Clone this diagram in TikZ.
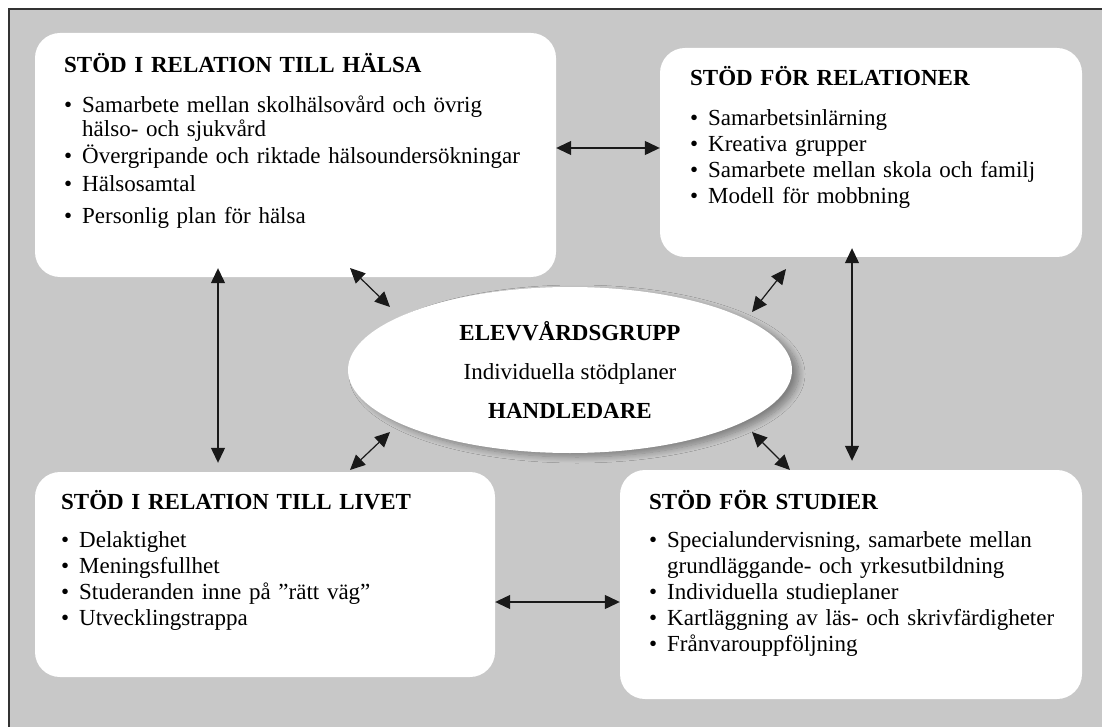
\documentclass[tikz,border=0pt]{standalone}
\usepackage{fontspec}
\setmainfont{Liberation Serif}
\usetikzlibrary{arrows.meta,shapes.geometric,shadows.blur}

\definecolor{bggray}{RGB}{200,200,200}
\tikzset{
	box/.style={fill=white,draw=none,rounded corners=25pt,inner sep=0pt},
	boxtext/.style={anchor=base west,inner sep=0pt,text width=#1,align=left,font=\fontsize{23}{26}\selectfont},
	link/.style={{Triangle[length=15pt,width=14pt]}-{Triangle[length=15pt,width=14pt]},line width=1.2pt,draw=black!90}
}
\newcommand{\itm}{\makebox[18pt][l]{\textbullet}}
\newcommand{\cnt}{\hspace*{18pt}}

\begin{document}
\begin{tikzpicture}[x=1pt,y=-1pt]
\useasboundingbox (0,0) rectangle (1102,727);
\fill[bggray] (9,9) rectangle (1102,727);
\draw[line width=1.2pt,black!80] (9,727) -- (9,9) -- (1102,9);

% HÄLSA
\node[box,minimum width=521,minimum height=244] (halsa) at (295.5,155) {};
\node[boxtext=480pt] (halsa-txt) at (64,72.5) {\textbf{STÖD I RELATION TILL HÄLSA}\\[14pt]
	\itm Samarbete mellan skolhälsovård och övrig\\[-2pt]
	\cnt hälso- och sjukvård\\[1pt]
	\itm Övergripande och riktade hälsoundersökningar\\[2pt]
	\itm Hälsosamtal\\[6pt]
	\itm Personlig plan för hälsa};

% RELATIONER
\node[box,minimum width=422,minimum height=209] (rel) at (871,152.5) {};
\node[boxtext=380pt] (rel-txt) at (690,85.5) {\textbf{STÖD FÖR RELATIONER}\\[14pt]
	\itm Samarbetsinlärning\\
	\itm Kreativa grupper\\
	\itm Samarbete mellan skola och familj\\
	\itm Modell för mobbning};

% LIVET
\node[box,minimum width=460,minimum height=205] (livet) at (265,574.5) {};
\node[boxtext=420pt] (livet-txt) at (61,509.5) {\textbf{STÖD I RELATION TILL LIVET}\\[12pt]
	\itm Delaktighet\\
	\itm Meningsfullhet\\
	\itm Studeranden inne på ”rätt väg”\\
	\itm Utvecklingstrappa};

% STUDIER
\node[box,minimum width=462,minimum height=229] (stud) at (851,584.5) {};
\node[boxtext=420pt] (stud-txt) at (649,509.5) {\textbf{STÖD FÖR STUDIER}\\[12pt]
	\itm Specialundervisning, samarbete mellan\\
	\cnt grundläggande- och yrkesutbildning\\
	\itm Individuella studieplaner\\
	\itm Kartläggning av läs- och skrivfärdigheter\\
	\itm Frånvarouppföljning};

% ELEVVÅRDSGRUPP
\node[ellipse,fill=white,minimum width=444,minimum height=166,inner sep=0pt,align=center,
	font=\fontsize{23}{26}\selectfont,
	blur shadow={shadow xshift=7pt,shadow yshift=-4pt,shadow blur steps=10,shadow blur radius=6pt,shadow opacity=35}]
	(elev) at (570,370) {\textbf{ELEVVÅRDSGRUPP}\\[13pt] Individuella stödplaner\\[13pt] \textbf{HANDLEDARE}};

% ARROWS
\draw[link] ([shift={(-77.5,-9)}]halsa.south) -- ([shift={(-77.5,-9)}]halsa.south |- livet.north);
\draw[link] ([yshift=7pt]halsa.east) -- ([yshift=7pt]halsa.east -| rel.west);
\draw[link] ([shift={(-19,-9)}]rel.south) -- ([shift={(-19,-9)}]rel.south |- stud.north);
\draw[link] ([yshift=-27.5pt]livet.east) -- ([yshift=-27.5pt]livet.east -| stud.west);
\draw[link] ([shift={(-220,-102)}]elev.center) -- ([shift={(-180,-63)}]elev.center);
\draw[link] ([shift={(216,-101)}]elev.center) -- ([shift={(182,-58)}]elev.center);
\draw[link] ([shift={(-220,100)}]elev.center) -- ([shift={(-180,62)}]elev.center);
\draw[link] ([shift={(182,62)}]elev.center) -- ([shift={(220,100)}]elev.center);
\end{tikzpicture}
\end{document}
